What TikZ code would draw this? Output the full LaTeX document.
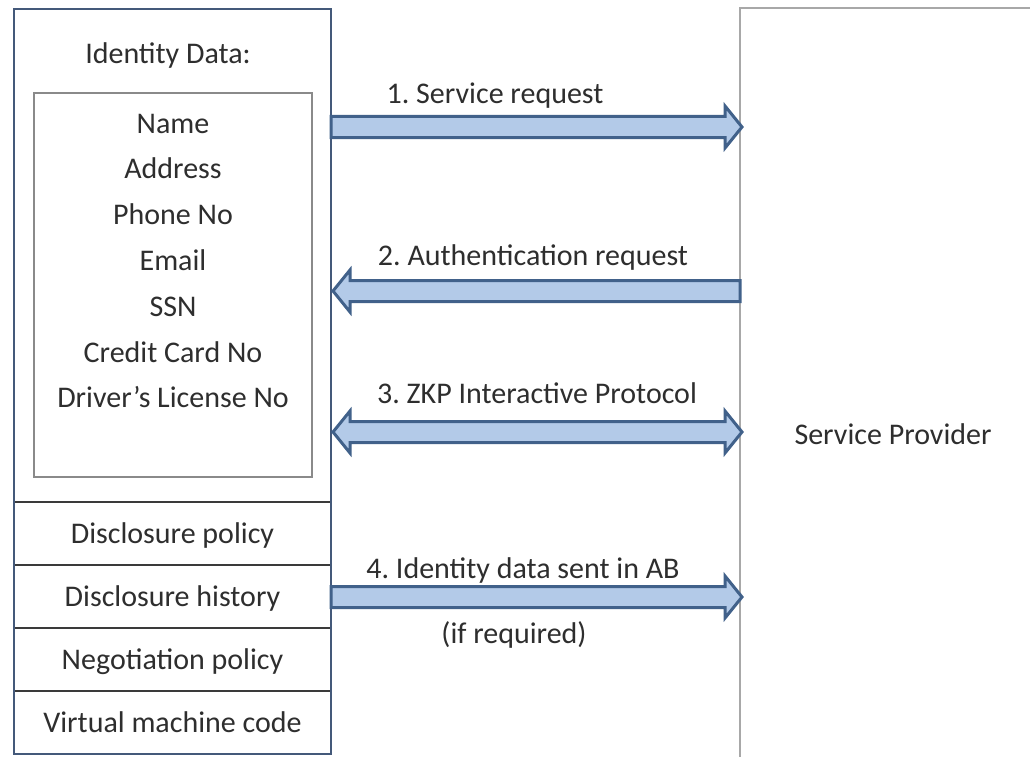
\documentclass[tikz,border=0pt]{standalone}
\usepackage{fontspec}
\setmainfont{Carlito}
\usetikzlibrary{calc}
\definecolor{txt}{HTML}{2E2E2E}
\definecolor{boxline}{HTML}{44597A}
\definecolor{sepline}{HTML}{3A3A3A}
\definecolor{innerline}{HTML}{8A8A8A}
\definecolor{spline}{HTML}{A8A8A8}
\definecolor{arrfill}{HTML}{B3CAE8}
\definecolor{arrline}{HTML}{41618A}
\frenchspacing
\begin{document}
\begin{tikzpicture}[x=1pt,y=-1pt,
  every node/.style={font=\fontsize{30}{36}\selectfont, text=txt, inner sep=0pt, outer sep=0pt},
  txtnode/.style={anchor=base},
  rowbox/.style={draw=sepline, line width=2.5pt, minimum width=317pt, minimum height=63pt,
    anchor=north west, text height=20pt, text depth=0pt},
  barrow/.style={draw=arrline, fill=arrfill, line width=3pt, line join=miter}
]
\clip (0,0) rectangle (1030,757);
\fill[white] (0,0) rectangle (1030,757);

% Service provider box
\node[draw=spline, line width=2pt, minimum width=320pt, minimum height=770pt, anchor=north west] (sp) at (740,8) {};
\node[txtnode] (splabel) at (893,444) {Service Provider};

% user side
\node[rowbox] (r1) at (14,502) {Disclosure policy};
\node[rowbox] (r2) at (14,565) {Disclosure history};
\node[rowbox] (r3) at (14,628) {Negotiation policy};
\node[rowbox] (r4) at (14,691) {Virtual machine code};
\node[draw=boxline, line width=2.5pt, minimum width=317pt, minimum height=745pt, anchor=north west] (user) at (14,9) {};

\node[txtnode] (idtitle) at (168,64) {Identity Data:};
\node[draw=innerline, line width=2pt, minimum width=278pt, minimum height=384pt, anchor=north west] (inner) at (34,93) {};
\node[txtnode] (i1) at (173,133) {Name};
\node[txtnode] (i2) at (173,178.8) {Address};
\node[txtnode] (i3) at (173,224.6) {Phone No};
\node[txtnode] (i4) at (173,270.4) {Email};
\node[txtnode] (i5) at (173,316.2) {SSN};
\node[txtnode] (i6) at (173,362) {Credit Card No};
\node[txtnode] (i7) at (173,407.8) {Driver’s License No};

% arrow end points
\coordinate (a1L) at (user.east |- 0,127);
\coordinate (a1R) at ($(sp.west |- 0,127)+(2,0)$);
\coordinate (a2L) at ($(user.east |- 0,291)+(2,0)$);
\coordinate (a2R) at (sp.west |- 0,291);
\coordinate (a3L) at ($(user.east |- 0,432)+(2,0)$);
\coordinate (a3R) at ($(sp.west |- 0,432)+(2,0)$);
\coordinate (a4L) at (user.east |- 0,597);
\coordinate (a4R) at ($(sp.west |- 0,597)+(2,0)$);

% 1: right
\draw[barrow] let \p1=(a1L), \p2=(a1R) in
  (\x1,\y1+10.5pt) -- (\x2-17pt,\y1+10.5pt) -- (\x2-17pt,\y1+21pt) -- (\x2,\y1)
  -- (\x2-17pt,\y1-21pt) -- (\x2-17pt,\y1-10.5pt) -- (\x1,\y1-10.5pt) -- cycle;
% 2: left
\draw[barrow] let \p1=(a2L), \p2=(a2R) in
  (\x2,\y1+10.5pt) -- (\x1+17pt,\y1+10.5pt) -- (\x1+17pt,\y1+21pt) -- (\x1,\y1)
  -- (\x1+17pt,\y1-21pt) -- (\x1+17pt,\y1-10.5pt) -- (\x2,\y1-10.5pt) -- cycle;
% 3: both
\draw[barrow] let \p1=(a3L), \p2=(a3R) in
  (\x1,\y1) -- (\x1+17pt,\y1+21pt) -- (\x1+17pt,\y1+10.5pt) -- (\x2-17pt,\y1+10.5pt)
  -- (\x2-17pt,\y1+21pt) -- (\x2,\y1) -- (\x2-17pt,\y1-21pt) -- (\x2-17pt,\y1-10.5pt)
  -- (\x1+17pt,\y1-10.5pt) -- (\x1+17pt,\y1-21pt) -- cycle;
% 4: right
\draw[barrow] let \p1=(a4L), \p2=(a4R) in
  (\x1,\y1+10.5pt) -- (\x2-17pt,\y1+10.5pt) -- (\x2-17pt,\y1+21pt) -- (\x2,\y1)
  -- (\x2-17pt,\y1-21pt) -- (\x2-17pt,\y1-10.5pt) -- (\x1,\y1-10.5pt) -- cycle;

% labels
\node[txtnode] (l1) at (495,103) {1. Service request};
\node[txtnode] (l2) at (533,265) {2. Authentication request};
\node[txtnode] (l3) at (537,403) {3. ZKP Interactive Protocol};
\node[txtnode] (l4) at (523,578) {4. Identity data sent in AB};
\node[txtnode] (l5) at (514,643) {(if required)};
\end{tikzpicture}
\end{document}
